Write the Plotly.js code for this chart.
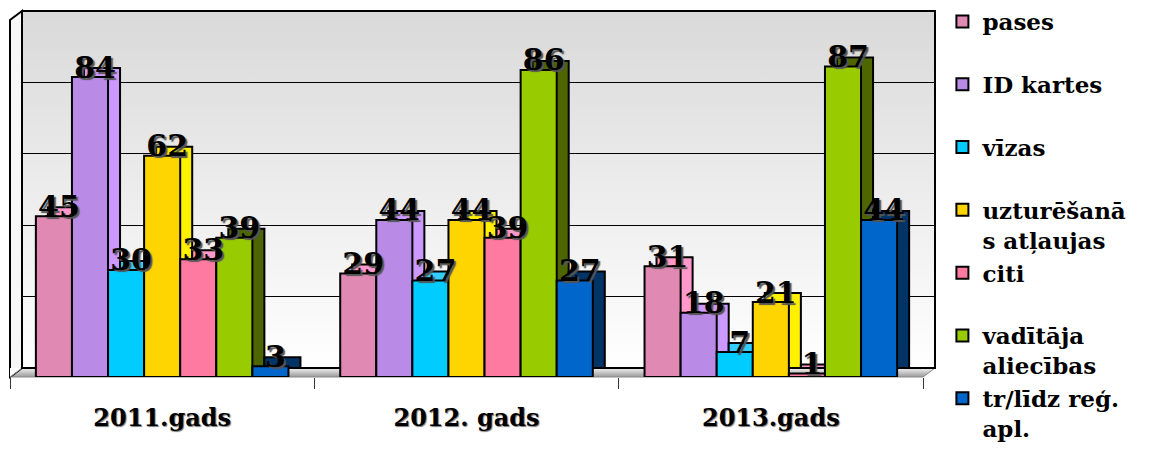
<!DOCTYPE html>
<html>
<head>
<meta charset="utf-8">
<script src="https://cdn.plot.ly/plotly-3.0.1.min.js"></script>
<style>html,body{margin:0;padding:0;background:#fff;}#chart{width:1169px;height:454px;}</style>
</head>
<body>
<div id="chart"></div>
<script>
// ---- data ----
const categories = ['2011.gads', '2012. gads', '2013.gads'];
const seriesNames = ['pases', 'ID kartes', 'vīzas', 'uzturēšanā<br>s atļaujas', 'citi', 'vadītāja<br>aliecības', 'tr/līdz reģ.<br>apl.'];
const pases = [45, 29, 31];
const idKartes = [84, 44, 18];
const vizas = [30, 27, 7];
const uzturesanas = [62, 44, 21];
const citi = [33, 39, 1];
const vaditaja = [39, 86, 87];
const trLidz = [3, 27, 44];
const seriesValues = [pases, idKartes, vizas, uzturesanas, citi, vaditaja, trLidz];

// ---- style ----
const frontColors = ['#E08AB3', '#B98AE6', '#00CCFF', '#FFD500', '#FF7AA0', '#99CC00', '#0066CC'];
const sideColors = ['#FF99CC', '#CC99FF', '#33CCFF', '#FFF000', '#FF99CC', '#4D6600', '#003366'];
const serif = 'DejaVu Serif';

const traces = [];
// back faces (depth) on xy
seriesValues.forEach((vals, i) => {
  traces.push({
    type: 'bar', x: categories, y: vals, xaxis: 'x', yaxis: 'y',
    marker: {color: sideColors[i], line: {color: '#000', width: 2}},
    showlegend: false, hoverinfo: 'skip'
  });
});
// front faces on x2y2
seriesValues.forEach((vals, i) => {
  const nm = seriesNames[i].indexOf('<br>') >= 0 ? seriesNames[i] : seriesNames[i] + '<br> ';
  traces.push({
    type: 'bar', x: categories, y: vals, xaxis: 'x2', yaxis: 'y2', name: nm,
    marker: {color: frontColors[i], line: {color: '#000', width: 2}},
    showlegend: true
  });
});
// labels on x3y3
seriesValues.forEach((vals, i) => {
  traces.push({
    type: 'scatter', mode: 'text', x: categories, y: vals, xaxis: 'x3', yaxis: 'y3',
    text: vals.map(String), textposition: 'middle center', cliponaxis: false,
    textfont: {family: serif, size: 30, weight: 'bold', color: '#000', shadow: '2px 2px 1px #555'},
    showlegend: false, hoverinfo: 'skip'
  });
});

const dx = 12 / 925, dy = 9 / 366;
const hidden = {visible: false, fixedrange: true};
const layout = {
  width: 1169, height: 454,
  margin: {l: 10, r: 234, t: 11, b: 77, autoexpand: false},
  paper_bgcolor: '#fff', plot_bgcolor: 'rgba(0,0,0,0)',
  barmode: 'group', bargap: 0.17, bargroupgap: 0,
  scattermode: 'group', scattergap: 0.17,
  font: {family: serif, color: '#000'},
  xaxis: Object.assign({type: 'category', domain: [dx, 1], range: [-0.5, 2.5]}, hidden),
  yaxis: {domain: [dy, 1], range: [0, 100], dtick: 20, showgrid: true, gridcolor: '#000', gridwidth: 1,
          showticklabels: false, zeroline: false, showline: false, ticks: '', fixedrange: true},
  xaxis2: {type: 'category', domain: [0, 1 - dx], range: [-0.5, 2.5], anchor: 'y2',
           tickson: 'boundaries', ticks: 'outside', ticklen: 11, tickwidth: 1, tickcolor: '#333',
           showgrid: false, showline: false, zeroline: false, ticklabelstandoff: 24,
           tickfont: {family: serif, size: 24, weight: 'bold', color: '#000', shadow: '1px 1px 1px #777'},
           fixedrange: true},
  yaxis2: {domain: [0, 1 - dy], range: [0, 100], anchor: 'x2', showgrid: false, showticklabels: false,
           zeroline: false, showline: false, ticks: '', fixedrange: true},
  xaxis3: Object.assign({type: 'category', domain: [5 / 925, 1 - dx + 5 / 925], range: [-0.5, 2.5], anchor: 'y3'}, hidden),
  yaxis3: Object.assign({domain: [7 / 366, 1 - dy + 7 / 366], range: [0, 100], anchor: 'x3'}, hidden),
  legend: {x: 1.008, xanchor: 'left', y: 1.03, yanchor: 'top', valign: 'top', maxheight: 454,
           font: {family: serif, size: 23, weight: 'bold', color: '#000'},
           bgcolor: 'rgba(0,0,0,0)', itemclick: false, itemdoubleclick: false},
  images: [
    {source: 'data:image/svg+xml;utf8,' + encodeURIComponent('<svg xmlns="http://www.w3.org/2000/svg" width="100" height="100" preserveAspectRatio="none"><defs><linearGradient id="g" x1="0" y1="0" x2="0" y2="1"><stop offset="0" stop-color="#d9d9d9"/><stop offset="1" stop-color="#ffffff"/></linearGradient></defs><rect width="100" height="100" fill="url(#g)"/></svg>'),
     xref: 'paper', yref: 'paper', x: dx, y: 1, sizex: 1 - dx, sizey: 1 - dy,
     xanchor: 'left', yanchor: 'top', sizing: 'stretch', layer: 'below'},
    {source: 'data:image/svg+xml;utf8,' + encodeURIComponent('<svg xmlns="http://www.w3.org/2000/svg" width="100" height="100" preserveAspectRatio="none"><defs><linearGradient id="f" x1="0" y1="0" x2="0" y2="1"><stop offset="0" stop-color="#f2f2f2"/><stop offset="1" stop-color="#9a9a9a"/></linearGradient></defs><rect width="100" height="100" fill="url(#f)"/></svg>'),
     xref: 'paper', yref: 'paper', x: 0, y: dy, sizex: 1, sizey: dy,
     xanchor: 'left', yanchor: 'top', sizing: 'stretch', layer: 'below'}
  ],
  shapes: [
    // left wall
    {type: 'path', xref: 'paper', yref: 'paper', layer: 'below',
     path: `M0,0 L${dx},${dy} L${dx},1 L0,${1 - dy} Z`, fillcolor: '#f7f7f7', line: {color: '#000', width: 2}},
    // mask floor outside parallelogram (white triangles)
    {type: 'path', xref: 'paper', yref: 'paper', layer: 'below',
     path: `M0,0 L${dx},${dy} L0,${dy} Z`, fillcolor: '#fff', line: {width: 0}},
    {type: 'path', xref: 'paper', yref: 'paper', layer: 'below',
     path: `M${1 - dx},0 L1,0 L1,${dy} Z`, fillcolor: '#fff', line: {width: 0}},
    // floor edges
    {type: 'path', xref: 'paper', yref: 'paper', layer: 'below',
     path: `M0,0 L${1 - dx},0 L1,${dy} L${dx},${dy} Z`, fillcolor: 'rgba(0,0,0,0)', line: {color: '#888', width: 1}},
    // back wall border
    {type: 'rect', xref: 'paper', yref: 'paper', layer: 'below',
     x0: dx, x1: 1, y0: dy, y1: 1, line: {color: '#000', width: 2}, fillcolor: 'rgba(0,0,0,0)'}
  ]
};

Plotly.newPlot('chart', traces, layout, {staticPlot: true, displayModeBar: false});
</script>
</body>
</html>
